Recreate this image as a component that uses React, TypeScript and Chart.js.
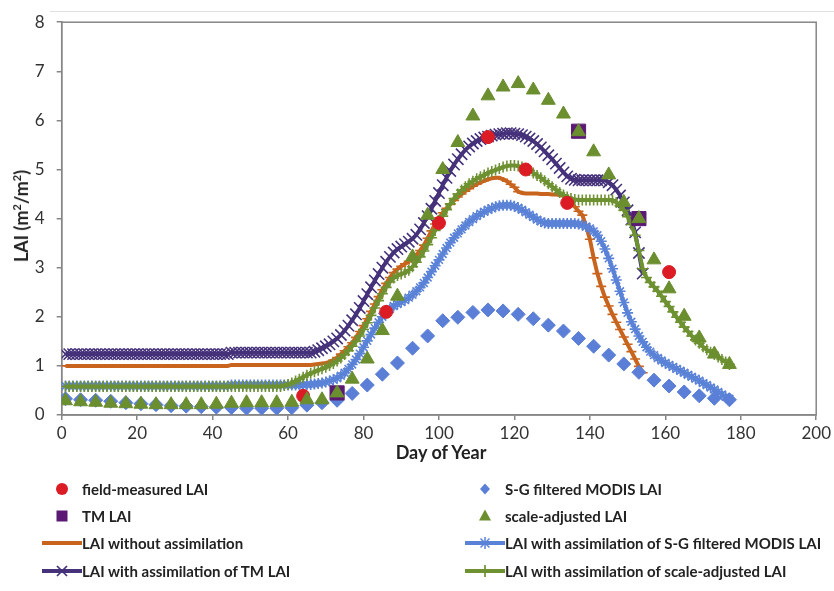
import React, { useEffect, useRef } from "react";
import { Chart, registerables } from "chart.js";

Chart.register(...registerables);

// ---------- data ----------
const FIELD_DAYS = [64, 86, 100, 113, 123, 134, 161];
const FIELD_LAI = [0.39, 2.1, 3.91, 5.66, 5.0, 4.32, 2.91];

const TM_DAYS = [73, 137, 153];
const TM_LAI = [0.45, 5.78, 4.0];

const OBS_DAYS = [1, 5, 9, 13, 17, 21, 25, 29, 33, 37, 41, 45, 49, 53, 57, 61, 65, 69, 73, 77, 81, 85, 89, 93, 97, 101, 105, 109, 113, 117, 121, 125, 129, 133, 137, 141, 145, 149, 153, 157, 161, 165, 169, 173, 177];
const MODIS_LAI = [0.33, 0.31, 0.30, 0.28, 0.25, 0.23, 0.21, 0.19, 0.18, 0.17, 0.16, 0.15, 0.14, 0.14, 0.14, 0.15, 0.20, 0.25, 0.30, 0.44, 0.61, 0.83, 1.06, 1.36, 1.61, 1.92, 1.99, 2.09, 2.14, 2.12, 2.05, 1.96, 1.83, 1.71, 1.56, 1.40, 1.22, 1.04, 0.87, 0.71, 0.59, 0.47, 0.39, 0.34, 0.31];
const SCALED_LAI = [0.29, 0.27, 0.26, 0.24, 0.23, 0.22, 0.21, 0.21, 0.21, 0.21, 0.22, 0.24, 0.25, 0.25, 0.25, 0.26, 0.31, 0.31, 0.45, 0.73, 1.14, 1.72, 2.42, 3.22, 4.07, 5.00, 5.55, 6.09, 6.50, 6.68, 6.75, 6.62, 6.41, 6.13, 5.77, 5.36, 4.89, 4.33, 4.00, 3.16, 2.57, 2.01, 1.57, 1.24, 1.03];

// simulated daily LAI, first value is day 1
const SIM_FIRST_DAY = 1;
const NO_ASSIM = [
  1.00, 1.00, 1.00, 1.00, 1.00, 1.00, 1.00, 1.00, 1.00, 1.00, 1.00,
  1.00, 1.00, 1.00, 1.00, 1.00, 1.00, 1.00, 1.00, 1.00, 1.00, 1.00,
  1.00, 1.00, 1.00, 1.00, 1.00, 1.00, 1.00, 1.00, 1.00, 1.00, 1.00,
  1.00, 1.00, 1.00, 1.00, 1.00, 1.00, 1.00, 1.00, 1.00, 1.00, 1.00,
  1.02, 1.02, 1.02, 1.02, 1.02, 1.02, 1.02, 1.02, 1.02, 1.02, 1.02,
  1.02, 1.02, 1.02, 1.02, 1.02, 1.02, 1.02, 1.02, 1.02, 1.02, 1.02,
  1.03, 1.04, 1.05, 1.06, 1.08, 1.12, 1.17, 1.24, 1.31, 1.39, 1.47, 1.58, 1.70, 1.82,
  1.96, 2.11, 2.26, 2.41, 2.55, 2.68, 2.80, 2.90, 2.97, 3.03, 3.08, 3.13, 3.19, 3.26,
  3.35, 3.46, 3.60, 3.75, 3.89, 4.01, 4.12, 4.21, 4.29, 4.37, 4.44, 4.50, 4.56, 4.61,
  4.66, 4.70, 4.74, 4.77, 4.80, 4.82, 4.83, 4.83, 4.80, 4.76, 4.70, 4.64, 4.55, 4.52,
  4.51, 4.51, 4.51, 4.51, 4.50, 4.50, 4.50, 4.49, 4.49, 4.48, 4.47, 4.44, 4.34, 4.24,
  4.15, 4.07, 3.85, 3.58, 3.20, 2.88, 2.62, 2.40, 2.22, 2.05, 1.89, 1.74, 1.59, 1.44,
  1.29, 1.14, 0.99, 0.86,
];
const ASSIM_MODIS = [
  0.59, 0.59, 0.59, 0.59, 0.59, 0.59, 0.59, 0.59, 0.59, 0.59, 0.59,
  0.59, 0.59, 0.59, 0.59, 0.59, 0.59, 0.59, 0.59, 0.59, 0.59, 0.59,
  0.59, 0.59, 0.59, 0.59, 0.59, 0.59, 0.59, 0.59, 0.59, 0.59, 0.59,
  0.59, 0.59, 0.59, 0.59, 0.59, 0.59, 0.59, 0.59, 0.59, 0.59, 0.59,
  0.61, 0.61, 0.61, 0.61, 0.61, 0.61, 0.61, 0.61, 0.61, 0.61,
  0.61, 0.61, 0.61, 0.61, 0.61, 0.61, 0.61, 0.61, 0.61, 0.61,
  0.62, 0.62,
  0.63, 0.64, 0.65, 0.67, 0.69, 0.72, 0.75, 0.80, 0.86, 0.94, 1.03, 1.13, 1.25, 1.38,
  1.51, 1.64, 1.77, 1.89, 2.00, 2.09, 2.16, 2.22, 2.26, 2.30, 2.34, 2.39, 2.45, 2.52,
  2.60, 2.69, 2.80, 2.92, 3.04, 3.16, 3.28, 3.40, 3.51, 3.61, 3.70, 3.78, 3.86, 3.93,
  3.99, 4.05, 4.10, 4.14, 4.18, 4.21, 4.24, 4.26, 4.27, 4.27, 4.27, 4.25, 4.22, 4.18,
  4.13, 4.08, 4.03, 3.98, 3.94, 3.91, 3.90,
  3.90, 3.90, 3.90, 3.90, 3.90, 3.90, 3.90,
  3.89, 3.87, 3.84, 3.80, 3.74, 3.66, 3.54, 3.38, 3.19, 2.98, 2.75, 2.52, 2.29, 2.08,
  1.90, 1.75, 1.61, 1.49, 1.38, 1.29, 1.22, 1.16, 1.11, 1.06, 1.02, 0.98, 0.94, 0.90,
  0.86, 0.82, 0.78, 0.74, 0.70, 0.65, 0.61, 0.56, 0.52, 0.47, 0.42, 0.37, 0.33,
];
// after day 154 this run coincides with the scale-adjusted run and is hidden under it
const ASSIM_TM = [
  1.24, 1.24, 1.24, 1.24, 1.24, 1.24, 1.24, 1.24, 1.24, 1.24, 1.24,
  1.24, 1.24, 1.24, 1.24, 1.24, 1.24, 1.24, 1.24, 1.24, 1.24, 1.24,
  1.24, 1.24, 1.24, 1.24, 1.24, 1.24, 1.24, 1.24, 1.24, 1.24, 1.24,
  1.24, 1.24, 1.24, 1.24, 1.24, 1.24, 1.24, 1.24, 1.24, 1.24, 1.24,
  1.27, 1.27, 1.27, 1.27, 1.27, 1.27, 1.27, 1.27, 1.27, 1.27, 1.27,
  1.27, 1.27, 1.27, 1.27, 1.27, 1.27, 1.27, 1.27, 1.27, 1.27, 1.27,
  1.29, 1.32, 1.36, 1.40, 1.44, 1.50, 1.56, 1.63, 1.72, 1.82, 1.93, 2.05, 2.18, 2.32,
  2.46, 2.60, 2.74, 2.87, 3.00, 3.12, 3.22, 3.31, 3.38, 3.43, 3.48, 3.53, 3.59, 3.67,
  3.78, 3.91, 4.05, 4.20, 4.36, 4.52, 4.68, 4.83, 4.97, 5.10, 5.21, 5.31, 5.40, 5.47,
  5.53, 5.58, 5.62, 5.65, 5.67, 5.69, 5.71, 5.72, 5.73, 5.74, 5.74, 5.73, 5.72, 5.70,
  5.67, 5.63, 5.58, 5.52, 5.45, 5.37, 5.29, 5.21, 5.12, 5.03, 4.94, 4.86, 4.81, 4.79,
  4.78, 4.78, 4.78, 4.78, 4.78, 4.78, 4.78, 4.78,
  4.74, 4.68, 4.59, 4.47, 4.33, 4.17, 3.98, 3.72, 3.30, 2.88,
];
const ASSIM_SCALED = [
  0.58, 0.58, 0.58, 0.58, 0.58, 0.58, 0.58, 0.58, 0.58, 0.58, 0.58,
  0.58, 0.58, 0.58, 0.58, 0.58, 0.58, 0.58, 0.58, 0.58, 0.58, 0.58,
  0.58, 0.58, 0.58, 0.58, 0.58, 0.58, 0.58, 0.58, 0.58, 0.58, 0.58,
  0.58, 0.58, 0.58, 0.58, 0.58, 0.58, 0.58, 0.58, 0.58, 0.58, 0.58,
  0.58, 0.58, 0.58, 0.58, 0.58, 0.58, 0.58, 0.58, 0.58, 0.58, 0.58,
  0.58, 0.58, 0.58,
  0.60, 0.62, 0.65, 0.69, 0.73, 0.77, 0.81, 0.85, 0.88, 0.91, 0.94, 0.97, 1.01, 1.05,
  1.10, 1.16, 1.23, 1.31, 1.40, 1.50, 1.61, 1.74, 1.88, 2.03, 2.18, 2.33, 2.47, 2.60,
  2.71, 2.79, 2.84, 2.87, 2.90, 2.95, 3.02, 3.11, 3.22, 3.34, 3.47, 3.61, 3.76, 3.91,
  4.05, 4.18, 4.30, 4.41, 4.50, 4.58, 4.65, 4.71, 4.76, 4.81, 4.85, 4.89, 4.93, 4.96,
  4.99, 5.02, 5.05, 5.07, 5.08, 5.08, 5.07, 5.05, 5.02, 4.98, 4.93, 4.88, 4.83, 4.77,
  4.71, 4.65, 4.59, 4.53, 4.48, 4.44, 4.41, 4.39,
  4.38, 4.38, 4.38, 4.38, 4.38, 4.38, 4.38, 4.38, 4.38, 4.38,
  4.33, 4.26, 4.17, 4.04, 3.88, 3.66, 3.35, 2.98, 2.80, 2.70, 2.61, 2.52, 2.42, 2.31,
  2.21, 2.10, 1.99, 1.89, 1.79, 1.70, 1.61, 1.53, 1.46, 1.39, 1.33, 1.28, 1.23, 1.18,
  1.13, 1.08, 1.03,
];

const X_TICK_STEP = 20;
const Y_TICK_STEP = 1;
const X_MAX = 200;
const Y_MAX = 8;

// ---------- styles ----------
const C_RED = "#DC1C24";
const C_SQUARE = "#5A1A74";
const C_DIAMOND = "#5B7FD6";
const C_TRI = "#6B8E2F";
const C_ORANGE = "#C8641E";
const C_BLUE = "#5A82D7";
const C_PURPLE = "#45327A";
const C_GREEN = "#6E9132";
const AXIS = "#868686";
const FONT = "Lato, 'Open Sans', sans-serif";

const pts = (xs: number[], ys: number[]) => ys.map((y, i) => ({ x: xs[i], y }));
const daily = (ys: number[]) => ys.map((y, i) => ({ x: SIM_FIRST_DAY + i, y }));

const framePlugin = {
  id: "frame",
  beforeDatasetsDraw(chart: any) {
    const { ctx, chartArea: a } = chart;
    ctx.save();
    ctx.strokeStyle = AXIS;
    ctx.lineWidth = 1.5;
    ctx.strokeRect(a.left, a.top, a.right - a.left, a.bottom - a.top);
    ctx.restore();
  },
};

function lineSet(label: string, data: number[], color: string, style: string, r: number) {
  return {
    label,
    data: daily(data),
    showLine: true,
    borderColor: color,
    backgroundColor: color,
    borderWidth: 4,
    tension: 0,
    pointStyle: style,
    pointRadius: r,
    pointBorderWidth: 1.6,
    pointBorderColor: color,
    pointBackgroundColor: color,
  };
}

function scatterSet(label: string, data: any[], color: string, style: string, r: number) {
  return {
    label,
    data,
    showLine: false,
    pointStyle: style,
    pointRadius: r,
    pointBackgroundColor: color,
    pointBorderColor: color,
    pointBorderWidth: 1,
    backgroundColor: color,
    borderColor: color,
  };
}

// ---------- legend ----------
type Kind = "circle" | "square" | "diamond" | "triangle" | "dash" | "star" | "x" | "plus";
const LEGEND: { label: string; kind: Kind; color: string; col: number; row: number }[] = [
  { label: "field-measured LAI", kind: "circle", color: C_RED, col: 0, row: 0 },
  { label: "S-G filtered MODIS LAI", kind: "diamond", color: C_DIAMOND, col: 1, row: 0 },
  { label: "TM LAI", kind: "square", color: C_SQUARE, col: 0, row: 1 },
  { label: "scale-adjusted LAI", kind: "triangle", color: C_TRI, col: 1, row: 1 },
  { label: "LAI without assimilation", kind: "dash", color: C_ORANGE, col: 0, row: 2 },
  { label: "LAI with assimilation of S-G filtered MODIS LAI", kind: "star", color: C_BLUE, col: 1, row: 2 },
  { label: "LAI with assimilation of TM LAI", kind: "x", color: C_PURPLE, col: 0, row: 3 },
  { label: "LAI with assimilation of scale-adjusted LAI", kind: "plus", color: C_GREEN, col: 1, row: 3 },
];

function Swatch({ kind, color }: { kind: Kind; color: string }) {
  const cx = 20, cy = 8;
  const isLine = kind === "dash" || kind === "star" || kind === "x" || kind === "plus";
  return (
    <svg width={40} height={16} style={{ display: "block" }}>
      {isLine && <line x1={0} y1={cy} x2={40} y2={cy} stroke={color} strokeWidth={4} />}
      {kind === "circle" && <circle cx={cx} cy={cy} r={6} fill={color} />}
      {kind === "square" && <rect x={cx - 5.5} y={cy - 5.5} width={11} height={11} fill={color} />}
      {kind === "diamond" && <polygon points={`${cx},${cy - 5.5} ${cx + 5},${cy} ${cx},${cy + 5.5} ${cx - 5},${cy}`} fill={color} />}
      {kind === "triangle" && <polygon points={`${cx},${cy - 6.5} ${cx + 6},${cy + 4.5} ${cx - 6},${cy + 4.5}`} fill={color} />}
      {kind === "star" && (
        <g stroke={color} strokeWidth={1.5}>
          <line x1={cx - 4.5} y1={cy - 4.5} x2={cx + 4.5} y2={cy + 4.5} />
          <line x1={cx - 4.5} y1={cy + 4.5} x2={cx + 4.5} y2={cy - 4.5} />
          <line x1={cx} y1={cy - 6} x2={cx} y2={cy + 6} />
        </g>
      )}
      {kind === "x" && (
        <g stroke={color} strokeWidth={1.7}>
          <line x1={cx - 5} y1={cy - 5} x2={cx + 5} y2={cy + 5} />
          <line x1={cx - 5} y1={cy + 5} x2={cx + 5} y2={cy - 5} />
        </g>
      )}
      {kind === "plus" && (
        <g stroke={color} strokeWidth={1.7}>
          <line x1={cx} y1={cy - 6} x2={cx} y2={cy + 6} />
        </g>
      )}
    </svg>
  );
}

const COL_SWATCH_X = [42, 465];
const COL_TEXT_X = [82, 505];
const ROW_Y = [489, 516, 543, 571];

export default function App() {
  const canvasRef = useRef<HTMLCanvasElement>(null);

  useEffect(() => {
    const canvas = canvasRef.current;
    if (!canvas) return;
    const chart = new Chart(canvas, {
      type: "scatter",
      data: {
        datasets: [
          scatterSet("scale-adjusted LAI", pts(OBS_DAYS, SCALED_LAI), C_TRI, "triangle", 8),
          scatterSet("field-measured LAI", pts(FIELD_DAYS, FIELD_LAI), C_RED, "circle", 6.5),
          scatterSet("TM LAI", pts(TM_DAYS, TM_LAI), C_SQUARE, "rect", 10),
          scatterSet("S-G filtered MODIS LAI", pts(OBS_DAYS, MODIS_LAI), C_DIAMOND, "rectRot", 7),
          lineSet("LAI with assimilation of scale-adjusted LAI", ASSIM_SCALED, C_GREEN, "cross", 5.5),
          lineSet("LAI with assimilation of TM LAI", ASSIM_TM, C_PURPLE, "crossRot", 8),
          lineSet("LAI with assimilation of S-G filtered MODIS LAI", ASSIM_MODIS, C_BLUE, "star", 5.5),
          lineSet("LAI without assimilation", NO_ASSIM, C_ORANGE, "line", 5),
        ] as any,
      },
      options: {
        animation: false,
        responsive: false,
        devicePixelRatio: 1,
        layout: { padding: { left: 0, top: 21.7, right: 14.3, bottom: 0 } },
        plugins: { legend: { display: false }, tooltip: { enabled: false } },
        scales: {
          x: {
            type: "linear",
            min: 0,
            max: X_MAX,
            ticks: { stepSize: X_TICK_STEP, color: "#333", padding: 3, font: { family: FONT, size: 17 } },
            grid: { drawOnChartArea: false, drawTicks: true, tickLength: 5, color: AXIS, lineWidth: 1.5 },
            border: { color: AXIS, width: 1.5 },
            afterFit: (s: any) => { s.height = 176; },
          },
          y: {
            type: "linear",
            min: 0,
            max: Y_MAX,
            ticks: { stepSize: Y_TICK_STEP, color: "#333", padding: 12, font: { family: FONT, size: 17 } },
            grid: { drawOnChartArea: false, drawTicks: true, tickLength: 5, color: AXIS, lineWidth: 1.5 },
            border: { color: AXIS, width: 1.5 },
            afterFit: (s: any) => { s.width = 61.7; },
          },
        },
      } as any,
      plugins: [framePlugin],
    });
    return () => chart.destroy();
  }, []);

  const sup = { fontSize: 11, verticalAlign: "7px", lineHeight: 0 } as const;

  return (
    <div style={{ position: "fixed", left: 0, top: 0, width: 834, height: 591, background: "#fff", overflow: "hidden", fontFamily: FONT, color: "#222" }}>
      <div style={{ position: "absolute", left: 50, top: 11, width: 784, height: 1, background: "#e0e0e0" }} />
      <canvas ref={canvasRef} width={834} height={591} style={{ position: "absolute", left: 0, top: 0, width: 834, height: 591 }} />
      <div style={{ position: "absolute", left: 21, top: 216, width: 0, height: 0 }}>
        <div style={{ position: "absolute", transform: "translate(-50%, -50%) rotate(-90deg)", whiteSpace: "nowrap", fontWeight: 700, fontSize: 18, lineHeight: "20px" }}>
          LAI (m<sup style={sup}>2</sup>/m<sup style={sup}>2</sup>)
        </div>
      </div>
      <div style={{ position: "absolute", left: 441, top: 452, width: 0, height: 0 }}>
        <div style={{ position: "absolute", transform: "translate(-50%, -50%)", whiteSpace: "nowrap", fontWeight: 700, fontSize: 18, lineHeight: "20px" }}>
          Day of Year
        </div>
      </div>
      {LEGEND.map((e) => (
        <React.Fragment key={e.label}>
          <div style={{ position: "absolute", left: COL_SWATCH_X[e.col], top: ROW_Y[e.row] - 8 }}>
            <Swatch kind={e.kind} color={e.color} />
          </div>
          <div style={{ position: "absolute", left: COL_TEXT_X[e.col], top: ROW_Y[e.row] - 10, fontWeight: 700, fontSize: 15, lineHeight: "20px", whiteSpace: "nowrap" }}>
            {e.label}
          </div>
        </React.Fragment>
      ))}
    </div>
  );
}
